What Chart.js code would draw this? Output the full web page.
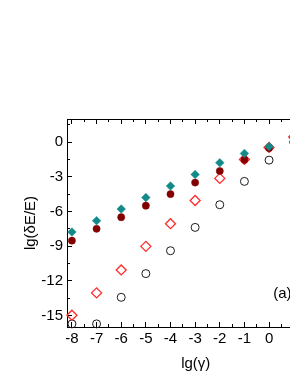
<!DOCTYPE html>
<html>
<head>
<meta charset="utf-8">
<script src="https://cdn.jsdelivr.net/npm/chart.js@4"></script>
<style>
  html, body { margin: 0; padding: 0; background: #fff; overflow: hidden; }
  #marco { width: 290px; height: 376px; overflow: hidden; }
</style>
</head>
<body>
<div id="marco"><canvas id="grafico" width="340" height="376"></canvas></div>
<script>
// lg(gamma) en el eje x, lg(dE/E) para cada serie
const lgGamma = [-8, -7, -6, -5, -4, -3, -2, -1, 0, 1];
const serieTeal = [-7.78, -6.8, -5.79, -4.8, -3.8, -2.8, -1.79, -0.98, -0.38, 0.4];
const serieGranate = [-8.53, -7.5, -6.5, -5.5, -4.5, -3.5, -2.5, -1.53, -0.52, 0.45];
const serieRojo = [-14.98, -13.05, -11.06, -9.02, -7.06, -5.05, -3.14, -1.5, -0.46, 0.45];
const serieNegro = [-15.73, -15.73, -13.43, -11.38, -9.4, -7.38, -5.42, -3.4, -1.56, 0.0];

const ticksX = [-8, -7, -6, -5, -4, -3, -2, -1, 0, 1, 2];
const ticksXMenores = [-7.5, -6.5, -5.5, -4.5, -3.5, -2.5, -1.5, -0.5, 0.5, 1.5];
const ticksY = [-15, -12, -9, -6, -3, 0];
const ticksYMenores = [-13.5, -10.5, -7.5, -4.5, -1.5, 1.5];

const fuente = { family: "'Liberation Sans', Arial, sans-serif", size: 15 };
const puntos = (ys) => lgGamma.map((x, i) => ({ x, y: ys[i] }));

const fijarTicks = (lista) => (s) => { s.ticks = lista.map(v => ({ value: v })); };

const ejeMenor = (pos, lista, rango, peso) => ({
  type: 'linear',
  position: pos,
  min: rango[0],
  max: rango[1],
  weight: peso,
  afterBuildTicks: fijarTicks(lista),
  afterFit: (s) => { if (pos === 'left') s.width = 0; else s.height = 0; },
  grid: { drawOnChartArea: false, tickLength: -3, tickColor: '#000', tickWidth: 1 },
  border: { display: false },
  ticks: { display: false }
});

const rangoX = [-8.2, 2.25];
const rangoY = [-16, 2];

const etiquetaA = {
  id: 'etiquetaA',
  afterDraw(chart) {
    const { ctx, scales } = chart;
    ctx.save();
    ctx.fillStyle = '#000';
    ctx.font = "15px 'Liberation Sans', Arial, sans-serif";
    ctx.textAlign = 'left';
    ctx.textBaseline = 'middle';
    ctx.fillText('(a)', scales.x.getPixelForValue(0.17), scales.y.getPixelForValue(-13.15));
    ctx.restore();
  }
};

new Chart(document.getElementById('grafico'), {
  type: 'scatter',
  data: {
    datasets: [
      {
        label: 'teal',
        data: puntos(serieTeal),
        pointStyle: 'rectRot',
        pointRadius: 4.3,
        backgroundColor: '#128a8a',
        borderColor: '#128a8a',
        borderWidth: 0.5
      },
      {
        label: 'granate',
        data: puntos(serieGranate),
        pointStyle: 'circle',
        pointRadius: 3.6,
        backgroundColor: '#820000',
        borderColor: '#820000',
        borderWidth: 0.5
      },
      {
        label: 'rojo',
        data: puntos(serieRojo),
        pointStyle: 'rectRot',
        pointRadius: 5,
        backgroundColor: 'rgba(0,0,0,0)',
        borderColor: '#ff2a2a',
        borderWidth: 1.3
      },
      {
        label: 'negro',
        data: puntos(serieNegro),
        pointStyle: 'circle',
        pointRadius: 4,
        backgroundColor: 'rgba(0,0,0,0)',
        borderColor: '#1a1a1a',
        borderWidth: 1
      }
    ]
  },
  options: {
    responsive: false,
    animation: false,
    clip: false,
    layout: { padding: { left: 0, right: 15.5, top: 0, bottom: 0 } },
    plugins: { legend: { display: false }, tooltip: { enabled: false } },
    scales: {
      x: {
        type: 'linear',
        position: 'bottom',
        min: rangoX[0],
        max: rangoX[1],
        weight: 1,
        afterBuildTicks: fijarTicks(ticksX),
        afterFit: (s) => { s.height = 49; },
        grid: { drawOnChartArea: false, tickLength: -5, tickColor: '#000', tickWidth: 1 },
        border: { color: '#000', width: 1 },
        ticks: { color: '#000', font: fuente, padding: 8, autoSkip: false, maxRotation: 0 },
        title: { display: true, text: 'lg(γ)', color: '#000', font: fuente, padding: { top: 0, bottom: 3 } }
      },
      xMenor: ejeMenor('bottom', ticksXMenores, rangoX, 0),
      xSup: {
        type: 'linear',
        position: 'top',
        min: rangoX[0],
        max: rangoX[1],
        weight: 1,
        afterBuildTicks: fijarTicks(ticksX),
        afterFit: (s) => { s.height = 119; },
        grid: { drawOnChartArea: false, tickLength: -5, tickColor: '#000', tickWidth: 1 },
        border: { color: '#000', width: 1 },
        ticks: { display: false }
      },
      xSupMenor: ejeMenor('top', ticksXMenores, rangoX, 0),
      y: {
        type: 'linear',
        position: 'left',
        min: rangoY[0],
        max: rangoY[1],
        weight: 1,
        afterBuildTicks: fijarTicks(ticksY),
        afterFit: (s) => { s.width = 67; },
        grid: { drawOnChartArea: false, tickLength: -5, tickColor: '#000', tickWidth: 1 },
        border: { color: '#000', width: 1 },
        ticks: { color: '#000', font: fuente, padding: 9, autoSkip: false },
        title: { display: true, text: 'lg(δE/E)', color: '#000', font: fuente, padding: { top: 22, bottom: 0 } }
      },
      yMenor: ejeMenor('left', ticksYMenores, rangoY, 0)
    }
  },
  plugins: [etiquetaA]
});
</script>
</body>
</html>
